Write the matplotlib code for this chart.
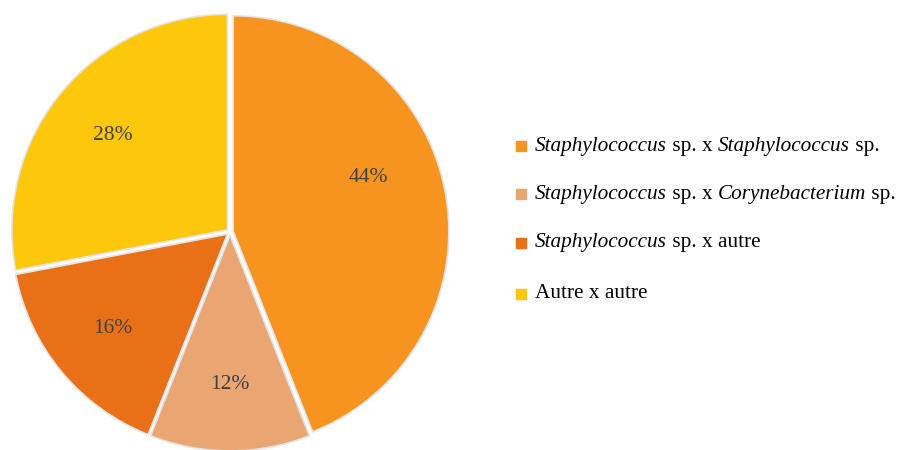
import matplotlib.pyplot as plt

categories = [
    ("Staphylococcus", " sp. x ", "Staphylococcus", " sp."),
    ("Staphylococcus", " sp. x ", "Corynebacterium", " sp."),
    ("Staphylococcus", " sp. x autre"),
    ("", "Autre x autre"),
]
shares = [44, 12, 16, 28]
colors = ["#F7941F", "#E9A673", "#EA7017", "#FDC80C"]

plt.rcParams["font.family"] = ["Liberation Serif", "DejaVu Serif"]

fig = plt.figure(figsize=(8.98, 4.5), dpi=100)

# pie axes: centre ~ (230, 232) px, radius ~ 220 px
W, H = 898, 450
cx, cy, r = 230, 450 - 232, 220
ax = fig.add_axes([(cx - r) / W, (cy - r) / H, 2 * r / W, 2 * r / H])

wedges, texts, autotexts = ax.pie(
    shares,
    colors=colors,
    startangle=90,
    counterclock=False,
    radius=0.98,
    explode=[0.015] * len(shares),
    autopct="%d%%",
    pctdistance=0.69,
    wedgeprops={"edgecolor": "#E4E4E4", "linewidth": 1.2},
    textprops={"fontsize": 15.5, "color": "#404040"},
)
ax.set_xlim(-1, 1)
ax.set_ylim(-1, 1)
ax.set_aspect("equal")
ax.axis("off")
# Excel placed the largest label off the bisector
autotexts[0].set_position((0.63, 0.25))

# legend with mixed italic / roman text
lax = fig.add_axes([0, 0, 1, 1])
lax.set_xlim(0, W)
lax.set_ylim(H, 0)
lax.axis("off")

row_y = [146, 194, 243, 294]
for parts, color, y in zip(categories, colors, row_y):
    lax.scatter([521], [y], marker="s", s=45, color=color)
    prev = None
    for i, part in enumerate(parts):
        if not part:
            continue
        style = "italic" if i % 2 == 0 else "normal"
        if prev is None:
            prev = lax.text(535, y, part, fontsize=15.3, fontstyle=style,
                            va="center", ha="left", color="#000000")
        else:
            prev = lax.annotate(part, xy=(1, 0), xycoords=prev,
                                va="bottom", ha="left", fontsize=15.3,
                                fontstyle=style, color="#000000")

fig.savefig("out.png", dpi=100)
